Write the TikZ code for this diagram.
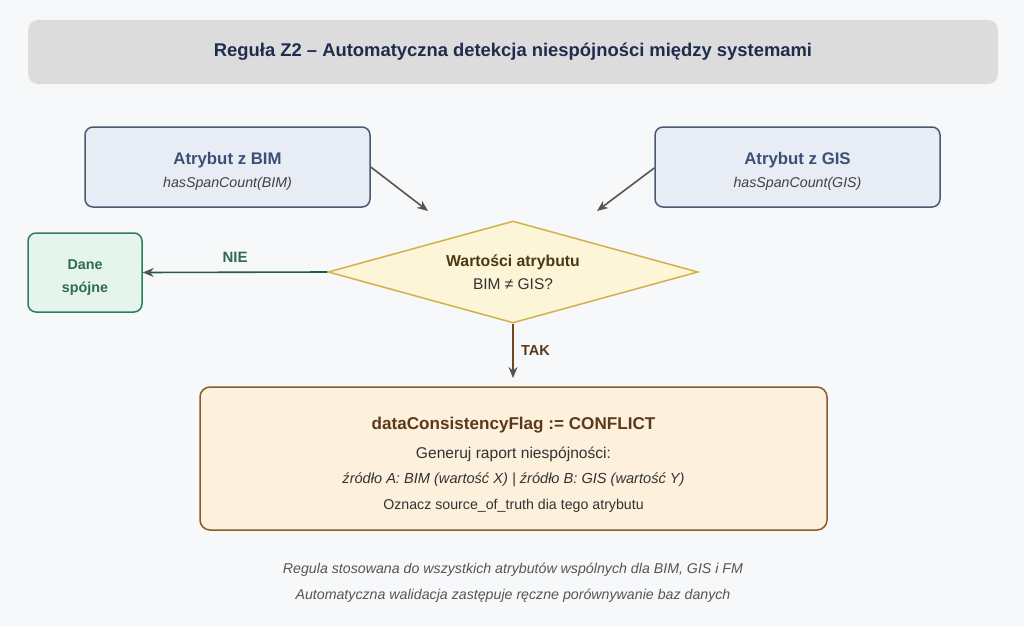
\documentclass[tikz,border=0pt]{standalone}
\usepackage{fontspec}
\setmainfont{Liberation Sans}
\usepackage{tikz}
\usetikzlibrary{shapes.geometric,arrows.meta}

\definecolor{bgcol}{HTML}{F7F8FA}
\definecolor{titlebg}{HTML}{DCDCDC}
\definecolor{titletxt}{HTML}{1F2D4D}
\definecolor{srcfill}{HTML}{E8EDF5}
\definecolor{srcdraw}{HTML}{4A5A72}
\definecolor{srctxt}{HTML}{3A5075}
\definecolor{decfill}{HTML}{FDF5D8}
\definecolor{decdraw}{HTML}{D4B04A}
\definecolor{dectxt}{HTML}{4A3A14}
\definecolor{okfill}{HTML}{E6F4EE}
\definecolor{okdraw}{HTML}{2E7D5B}
\definecolor{oktxt}{HTML}{2E6B50}
\definecolor{conffill}{HTML}{FDF0DC}
\definecolor{confdraw}{HTML}{8A5A2A}
\definecolor{conftxt}{HTML}{5A3A1A}
\definecolor{arrcol}{HTML}{555555}
\definecolor{notecol}{HTML}{555555}

\tikzset{
  srcbox/.style={draw=srcdraw, fill=srcfill, line width=1.5pt, rounded corners=8pt,
    minimum width=285pt, minimum height=80pt},
  okbox/.style={draw=okdraw, fill=okfill, line width=1.5pt, rounded corners=8pt,
    minimum width=114pt, minimum height=79pt},
  decbox/.style={diamond, draw=decdraw, fill=decfill, line width=1.5pt, aspect=3.63,
    minimum width=370pt, minimum height=102pt, inner sep=0pt, align=center,
    font=\fontsize{10}{20}\selectfont},
  confbox/.style={draw=confdraw, fill=conffill, line width=1.5pt, rounded corners=10pt,
    minimum width=627pt, minimum height=143pt},
  boxtext/.style={align=center, inner sep=0pt, font=\fontsize{10}{20}\selectfont},
  flow/.style={-{Stealth[length=11pt,width=9pt,color=arrcol]}, line width=1.6pt, color=arrcol},
  note/.style={text=notecol, font=\fontsize{14.2}{17}\selectfont\itshape}
}

\begin{document}
\begin{tikzpicture}[x=1pt, y=-1pt]
    \useasboundingbox[fill=bgcol] (0,0) rectangle (1024,626);

    \node[fill=titlebg, rounded corners=10pt, minimum width=970pt, minimum height=64pt,
      text=titletxt, font=\fontsize{18.4}{22}\selectfont\bfseries] (title) at (513,52)
      {\raisebox{-1.5pt}{Reguła Z2 – Automatyczna detekcja niespójności między systemami}};

    % sources
    \node[srcbox] (bim) at (227.5,167) {};
    \node[boxtext, yshift=-4pt] (bimtxt) at (bim.center)
      {{\color{srctxt}\fontsize{16.8}{20}\selectfont\bfseries Atrybut z BIM}\\[3pt]
      {\color{black!75}\fontsize{14.2}{17}\selectfont\itshape hasSpanCount(BIM)}};
    \node[srcbox] (gis) at (797.5,167) {};
    \node[boxtext, yshift=-4pt] (gistxt) at (gis.center)
      {{\color{srctxt}\fontsize{16.8}{20}\selectfont\bfseries Atrybut z GIS}\\[3pt]
      {\color{black!75}\fontsize{14.2}{17}\selectfont\itshape hasSpanCount(GIS)}};

    % decision
    \node[decbox] (cmp) at (513,272) {{\color{dectxt}\fontsize{15.8}{19}\selectfont\bfseries Wartości atrybutu}\\[3pt]
      {\color{black!80}\fontsize{15.5}{18}\selectfont BIM ≠ GIS?}};

    \node[okbox] (ok) at (85,272.5) {};
    \node[boxtext, yshift=-5pt, text=oktxt, font=\fontsize{14.3}{23}\selectfont\bfseries] (oktxt)
      at (ok.center) {Dane\\spójne};

    \node[confbox] (conf) at (513.5,458.5) {};
    \node[boxtext, yshift=-6pt] (conftxt) at (conf.center) {%
      {\color{conftxt}\fontsize{17.1}{20}\selectfont\bfseries dataConsistencyFlag := CONFLICT}\\[9pt]
      {\color{black!80}\fontsize{15.6}{18}\selectfont Generuj raport niespójności:}\\[5pt]
      {\color{black!80}\fontsize{14.6}{17}\selectfont\itshape źródło A: BIM (wartość X) | źródło B: GIS (wartość Y)}\\[6pt]
      {\color{black!80}\fontsize{14.2}{17}\selectfont Oznacz source\_of\_truth dia tego atrybutu}};

    \coordinate (bimend) at (428,211);
    \coordinate (gisend) at (597,211);
    \coordinate (takend) at (513,378);

    \draw[flow] (bim.east |- 0,167) -- (bimend);
    \draw[flow] (gis.west |- 0,168) -- (gisend);
    \draw[flow, color=okdraw!75!black] (cmp.west) -- (ok.east)
      node[midway, above=6pt, text=oktxt, font=\fontsize{15}{18}\selectfont\bfseries] {NIE};
    \draw[flow, color=confdraw!80!black] (cmp.south) -- (takend)
      node[midway, right=4pt, text=conftxt, font=\fontsize{14.5}{17}\selectfont\bfseries] {TAK};

    \node[note] (note1) at (513,570) {Regula stosowana do wszystkich atrybutów wspólnych dla BIM, GIS i FM};
    \node[note] (note2) at (513,596) {Automatyczna walidacja zastępuje ręczne porównywanie baz danych};
  \end{tikzpicture}
\end{document}
